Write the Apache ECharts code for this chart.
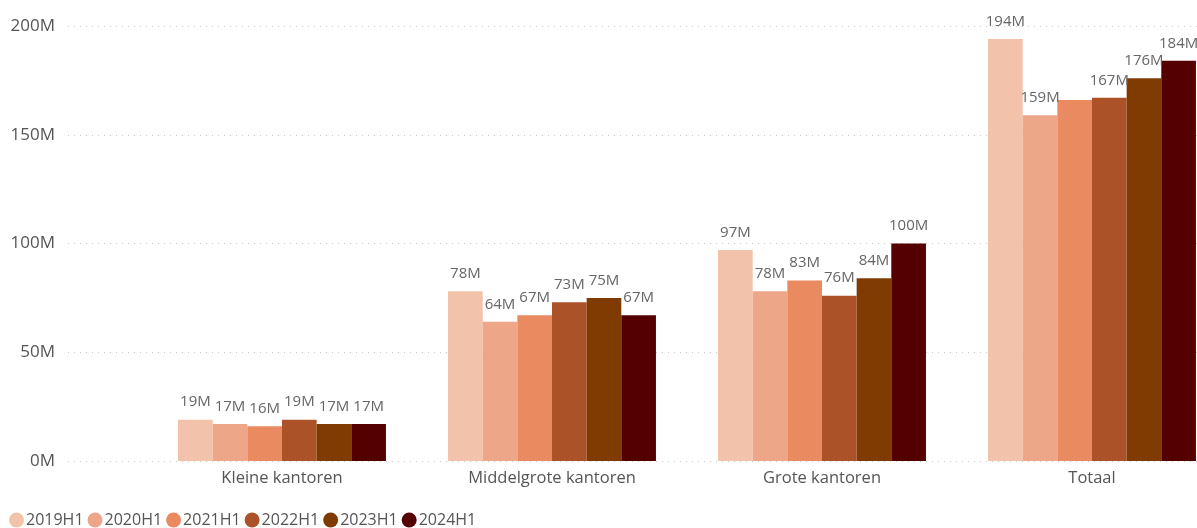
<!DOCTYPE html>
<html>
<head>
<meta charset="utf-8">
<script src="https://cdn.jsdelivr.net/npm/echarts@6/dist/echarts.min.js"></script>
<style>
  html, body { margin: 0; padding: 0; background: #fff; }
  #chart { width: 1197px; height: 528px; }
</style>
</head>
<body>
<div id="chart"></div>
<script>
// categories and series (values in millions)
const categories = ["Kleine kantoren", "Middelgrote kantoren", "Grote kantoren", "Totaal"];
const seriesNames = ["2019H1", "2020H1", "2021H1", "2022H1", "2023H1", "2024H1"];
const v2019 = [19, 78, 97, 194];
const v2020 = [17, 64, 78, 159];
const v2021 = [16, 67, 83, 166];
const v2022 = [19, 73, 76, 167];
const v2023 = [17, 75, 84, 176];
const v2024 = [17, 67, 100, 184];
const yTicks = [0, 50, 100, 150, 200];
// labels hidden in the picture: [series, category]
const hiddenLabels = [[2, 3]];

const colors = ["#F2C2AB", "#EEA688", "#E98A60", "#AC5229", "#803B02", "#540000"];
const allValues = [v2019, v2020, v2021, v2022, v2023, v2024];

const font = "'Open Sans', 'Noto Sans', sans-serif";

let chart = echarts.init(document.getElementById("chart"));

let series = seriesNames.map(function (name, i) {
  return {
    name: name,
    type: "bar",
    xAxisIndex: 1,
    yAxisIndex: 1,
    barGap: "0%",
    barCategoryGap: "23%",
    itemStyle: { color: colors[i] },
    label: {
      show: true,
      position: "top",
      distance: 10,
      color: "#666",
      fontSize: 15,
      fontFamily: font,
      formatter: function (p) { return p.value + "M"; }
    },
    data: allValues[i].map(function (v, j) {
      let hide = hiddenLabels.some(function (h) { return h[0] === i && h[1] === j; });
      return hide ? { value: v, label: { show: false } } : v;
    })
  };
});

let option = {
  animation: false,
  color: colors,
  legend: {
    left: 4,
    top: 507,
    icon: "circle",
    itemWidth: 15,
    itemHeight: 15,
    itemGap: 4,
    textStyle: { color: "#555", fontSize: 16, fontFamily: font, padding: [0, 0, 0, -3] },
    data: seriesNames
  },
  // grid 0 carries the y labels and gridlines, grid 1 the bars (runs past the right edge)
  grid: [
    { left: 68, right: 0, top: 26, bottom: 67, outerBoundsMode: "none" },
    { left: 147, right: -30, top: 26, bottom: 67, outerBoundsMode: "none" }
  ],
  xAxis: [
    {
      gridIndex: 0,
      type: "category",
      data: [""],
      axisLine: { show: false },
      axisTick: { show: false },
      axisLabel: { show: false }
    },
    {
      gridIndex: 1,
      type: "category",
      data: categories,
      axisLine: { show: false },
      axisTick: { show: false },
      axisLabel: { color: "#555", fontSize: 16.5, fontFamily: font, margin: 9 }
    }
  ],
  yAxis: [
    {
      gridIndex: 0,
      type: "value",
      min: yTicks[0],
      max: yTicks[yTicks.length - 1],
      interval: 50,
      axisLine: { show: false },
      axisTick: { show: false },
      axisLabel: {
        color: "#555",
        fontSize: 17,
        fontFamily: font,
        margin: 13,
        formatter: function (v) { return v + "M"; }
      },
      splitLine: { lineStyle: { color: "#c8c8c8", type: [1, 5], width: 1 } }
    },
    {
      gridIndex: 1,
      type: "value",
      min: yTicks[0],
      max: yTicks[yTicks.length - 1],
      interval: 50,
      show: false
    }
  ],
  series: series
};

chart.setOption(option);
</script>
</body>
</html>
